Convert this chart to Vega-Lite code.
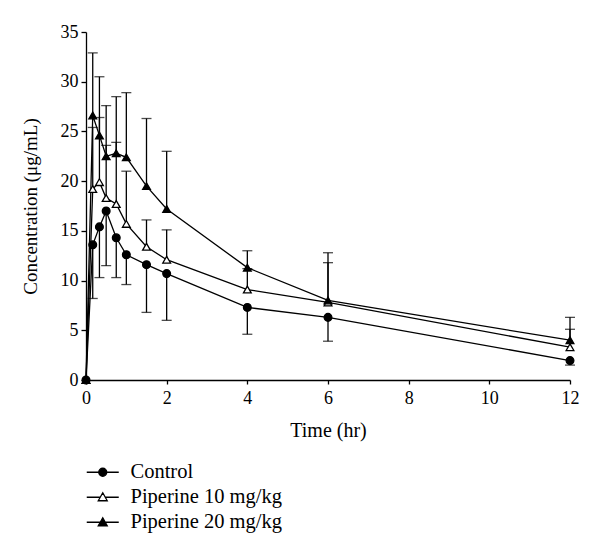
{
  "$schema": "https://vega.github.io/schema/vega-lite/v6.json",
  "autosize": {"type": "none"},
  "padding": {"left": 86, "top": 32, "right": 30, "bottom": 174},
  "width": 484,
  "height": 348,
  "background": "white",
  "config": {
    "font": "Liberation Serif",
    "view": {"stroke": null},
    "axis": {"grid": false, "domainColor": "black", "tickColor": "black", "labelColor": "black", "titleColor": "black", "labelFont": "Liberation Serif", "titleFont": "Liberation Serif", "labelFontSize": 18, "titleFontSize": 19, "titleFontWeight": "normal", "domainWidth": 1.3, "tickWidth": 1.3},
    "legend": {"labelFont": "Liberation Serif", "labelFontSize": 20.5, "labelColor": "black"}
  },
  "data": {"values": [
    {"series": "Control", "time": 0, "conc": 0, "err": null},
    {"series": "Control", "time": 0.167, "conc": 13.6, "err": 8.2},
    {"series": "Control", "time": 0.333, "conc": 15.4, "err": 10.3},
    {"series": "Control", "time": 0.5, "conc": 17.0, "err": 11.5},
    {"series": "Control", "time": 0.75, "conc": 14.3, "err": 10.3},
    {"series": "Control", "time": 1, "conc": 12.6, "err": 9.6},
    {"series": "Control", "time": 1.5, "conc": 11.6, "err": 6.8},
    {"series": "Control", "time": 2, "conc": 10.7, "err": 6.0},
    {"series": "Control", "time": 4, "conc": 7.3, "err": 4.6},
    {"series": "Control", "time": 6, "conc": 6.3, "err": 3.9},
    {"series": "Control", "time": 12, "conc": 1.95, "err": 1.5},
    {"series": "Piperine 10 mg/kg", "time": 0, "conc": 0, "err": null},
    {"series": "Piperine 10 mg/kg", "time": 0.167, "conc": 19.2, "err": 25.4},
    {"series": "Piperine 10 mg/kg", "time": 0.333, "conc": 19.9, "err": 26.4},
    {"series": "Piperine 10 mg/kg", "time": 0.5, "conc": 18.3, "err": 23.6},
    {"series": "Piperine 10 mg/kg", "time": 0.75, "conc": 17.7, "err": 23.9},
    {"series": "Piperine 10 mg/kg", "time": 1, "conc": 15.7, "err": 21.0},
    {"series": "Piperine 10 mg/kg", "time": 1.5, "conc": 13.4, "err": 16.1},
    {"series": "Piperine 10 mg/kg", "time": 2, "conc": 12.1, "err": 15.1},
    {"series": "Piperine 10 mg/kg", "time": 4, "conc": 9.1, "err": 11.2},
    {"series": "Piperine 10 mg/kg", "time": 6, "conc": 7.8, "err": 11.8},
    {"series": "Piperine 10 mg/kg", "time": 12, "conc": 3.3, "err": 5.1},
    {"series": "Piperine 20 mg/kg", "time": 0, "conc": 0, "err": null},
    {"series": "Piperine 20 mg/kg", "time": 0.167, "conc": 26.6, "err": 32.9},
    {"series": "Piperine 20 mg/kg", "time": 0.333, "conc": 24.6, "err": 30.5},
    {"series": "Piperine 20 mg/kg", "time": 0.5, "conc": 22.5, "err": 27.6},
    {"series": "Piperine 20 mg/kg", "time": 0.75, "conc": 22.8, "err": 28.5},
    {"series": "Piperine 20 mg/kg", "time": 1, "conc": 22.4, "err": 28.9},
    {"series": "Piperine 20 mg/kg", "time": 1.5, "conc": 19.5, "err": 26.3},
    {"series": "Piperine 20 mg/kg", "time": 2, "conc": 17.2, "err": 23.0},
    {"series": "Piperine 20 mg/kg", "time": 4, "conc": 11.3, "err": 13.0},
    {"series": "Piperine 20 mg/kg", "time": 6, "conc": 8.0, "err": 12.8},
    {"series": "Piperine 20 mg/kg", "time": 12, "conc": 4.0, "err": 6.3}
  ]},
  "encoding": {
    "x": {"field": "time", "type": "quantitative", "scale": {"domain": [0, 12], "nice": false, "zero": true},
          "axis": {"title": "Time (hr)", "titleFontSize": 20, "values": [0, 2, 4, 6, 8, 10, 12], "tickSize": 4, "labelPadding": 5, "titlePadding": 13, "labelFlush": false}}
  },
  "resolve": {"scale": {"shape": "independent", "fill": "independent", "stroke": "independent"}},
  "layer": [
    {
      "transform": [{"filter": "datum.err != null"}],
      "mark": {"type": "rule", "color": "black", "strokeWidth": 1.3},
      "encoding": {
        "y": {"field": "conc", "type": "quantitative", "scale": {"domain": [0, 35], "nice": false},
              "axis": {"title": "Concentration (μg/mL)", "titleColor": "black", "values": [0, 5, 10, 15, 20, 25, 30, 35], "tickSize": 5, "labelPadding": 3, "titlePadding": 20, "labelFlush": false}},
        "y2": {"field": "err"}
      }
    },
    {
      "transform": [{"filter": "datum.err != null"}],
      "mark": {"type": "tick", "orient": "horizontal", "color": "black", "size": 10, "thickness": 1.3},
      "encoding": {
        "y": {"field": "err", "type": "quantitative"}
      }
    },
    {
      "mark": {"type": "line", "color": "black", "strokeWidth": 1.3},
      "encoding": {
        "y": {"field": "conc", "type": "quantitative"},
        "detail": {"field": "series"}
      }
    },
    {
      "mark": {"type": "point", "filled": true, "stroke": "black", "strokeWidth": 1.3, "opacity": 1, "size": 60},
      "encoding": {
        "y": {"field": "conc", "type": "quantitative"},
        "shape": {"field": "series", "type": "nominal",
          "scale": {"domain": ["Control", "Piperine 10 mg/kg", "Piperine 20 mg/kg"], "range": ["circle", "triangle-up", "triangle-up"]},
          "legend": null},
        "fill": {"field": "series", "type": "nominal",
          "scale": {"domain": ["Control", "Piperine 10 mg/kg", "Piperine 20 mg/kg"], "range": ["black", "white", "black"]},
          "legend": null}
      }
    },
    {
      "transform": [{"filter": "false"}],
      "mark": {"type": "point", "filled": true, "strokeWidth": 1.3, "opacity": 1, "size": 100},
      "encoding": {
        "y": {"field": "conc", "type": "quantitative"},
        "shape": {"field": "series", "type": "nominal",
          "scale": {"domain": ["Control", "Piperine 10 mg/kg", "Piperine 20 mg/kg"], "range": ["M-3.2,0H3.2M-0.8,0A0.8,0.8 0 1,1 0.8,0A0.8,0.8 0 1,1 -0.8,0Z", "M-3.2,0H-0.5M0.5,0H3.2M0,-0.9L0.9,0.7H-0.9Z", "M-3.2,0H3.2M0,-0.9L0.9,0.7H-0.9Z"]},
          "legend": {"title": null, "orient": "none", "legendX": 6.5, "legendY": 430, "direction": "vertical", "symbolSize": 100, "labelOffset": 17.5, "rowPadding": 4, "padding": 0, "symbolStrokeWidth": 1.3, "symbolOpacity": 1}},
        "fill": {"field": "series", "type": "nominal",
          "scale": {"domain": ["Control", "Piperine 10 mg/kg", "Piperine 20 mg/kg"], "range": ["black", "white", "black"]},
          "legend": {"title": null, "orient": "none", "legendX": 6.5, "legendY": 430, "direction": "vertical", "symbolSize": 100, "labelOffset": 17.5, "rowPadding": 4, "padding": 0, "symbolStrokeWidth": 1.3, "symbolOpacity": 1}},
        "stroke": {"field": "series", "type": "nominal",
          "scale": {"domain": ["Control", "Piperine 10 mg/kg", "Piperine 20 mg/kg"], "range": ["black", "black", "black"]},
          "legend": {"title": null, "orient": "none", "legendX": 6.5, "legendY": 430, "direction": "vertical", "symbolSize": 100, "labelOffset": 17.5, "rowPadding": 4, "padding": 0, "symbolStrokeWidth": 1.3, "symbolOpacity": 1}}
      }
    }
  ]
}
